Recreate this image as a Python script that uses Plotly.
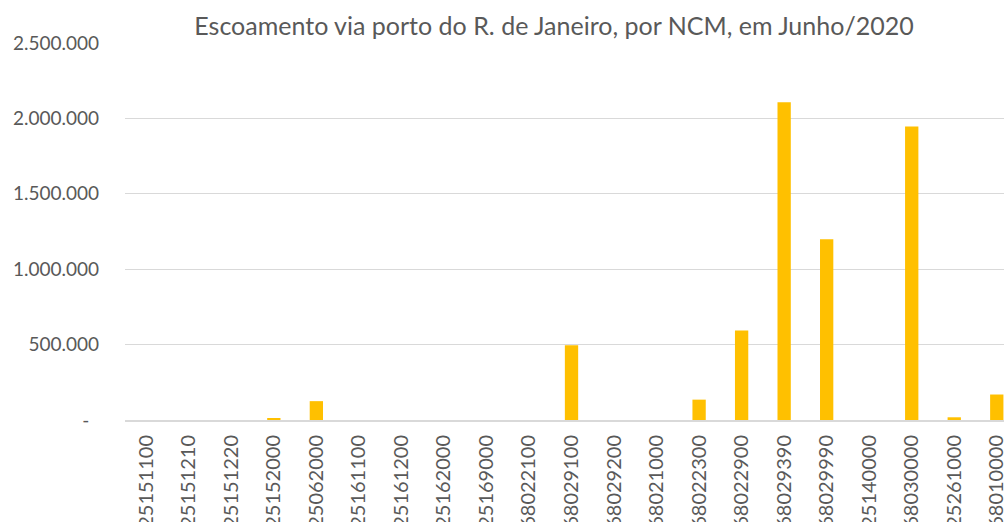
import plotly.graph_objects as go

categories = ["25151100", "25151210", "25151220", "25152000", "25062000", "25161100",
              "25161200", "25162000", "25169000", "68022100", "68029100", "68029200",
              "68021000", "68022300", "68022900", "68029390", "68029990", "25140000",
              "68030000", "25261000", "68010000"]
values = [0, 0, 0, 7000, 125000, 0,
          0, 0, 0, 0, 496000, 0,
          0, 135000, 593000, 2107000, 1198000, 0,
          1947000, 18000, 169000]

y_tickvals = [0, 500000, 1000000, 1500000, 2000000, 2500000]
y_ticktext = ["-\u00a0\u00a0", "500.000", "1.000.000", "1.500.000", "2.000.000", "2.500.000"]

title_text = "Escoamento via porto do R. de Janeiro, por NCM, em Junho/2020"

font_family = "Lato, 'Open Sans', sans-serif"
text_color = "#595959"
grid_color = "#d9d9d9"

fig = go.Figure(go.Bar(
    x=categories,
    y=values,
    marker=dict(color="#FFC000", line=dict(width=0)),
))

fig.update_layout(
    template="none",
    width=1004,
    height=522,
    margin=dict(l=125, r=0, t=43, b=102, pad=0),
    paper_bgcolor="white",
    plot_bgcolor="white",
    bargap=0.687,
    showlegend=False,
    font=dict(family=font_family, color=text_color, size=19),
    title=dict(
        text=title_text,
        x=554 / 1004,
        xanchor="center",
        xref="container",
        y=1 - 26 / 522,
        yanchor="middle",
        yref="container",
        font=dict(family=font_family, size=25, color=text_color),
    ),
    xaxis=dict(
        type="category",
        range=[-0.5, 20.17],
        automargin=False,
        tickangle=-90,
        showgrid=False,
        showline=True,
        linecolor=grid_color,
        linewidth=2,
        ticks="",
        ticklabelstandoff=5,
        tickfont=dict(size=20, color=text_color),
    ),
    yaxis=dict(
        range=[0, 2500000],
        automargin=False,
        tickvals=y_tickvals,
        ticktext=y_ticktext,
        showgrid=True,
        gridcolor=grid_color,
        gridwidth=1,
        zeroline=False,
        showline=False,
        ticks="",
        ticklabelstandoff=25,
        tickfont=dict(size=19, color=text_color),
    ),
)

fig.write_html(
    "out.html",
    config={"displayModeBar": False},
    post_script="document.body.style.margin='0';",
)
